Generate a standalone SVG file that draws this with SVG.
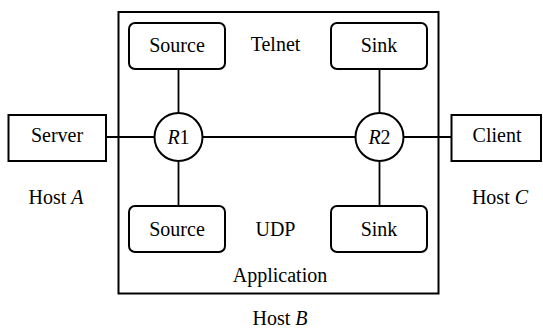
<svg xmlns="http://www.w3.org/2000/svg" width="543" height="328" viewBox="0 0 543 328">
<style>
.box{fill:#fff;stroke:#000;stroke-width:2}
.ln{fill:none;stroke:#000;stroke-width:1.8}
text{font-family:'Liberation Serif',Tinos,'Times New Roman','DejaVu Serif',serif;font-size:20px;fill:#000;text-anchor:middle}
.i{font-style:italic}
</style>
<rect width="543" height="328" fill="#fff"/>
<g id="hostB" font-family="Liberation Serif, serif">
<rect class="box" x="118.5" y="12" width="320" height="281.5"/>
<text x="275.5" y="51">Telnet</text>
<text x="275.5" y="236">UDP</text>
<text x="280" y="282">Application</text>
<text x="280" y="325">Host <tspan class="i">B</tspan></text>
</g>
<g id="connectors">
<line class="ln" x1="106" y1="137" x2="154" y2="137"/>
<line class="ln" x1="202" y1="137" x2="355" y2="137"/>
<line class="ln" x1="403" y1="137" x2="451" y2="137"/>
<line class="ln" x1="178.5" y1="69" x2="178.5" y2="113"/>
<line class="ln" x1="178.5" y1="161" x2="178.5" y2="206"/>
<line class="ln" x1="379.5" y1="69" x2="379.5" y2="113"/>
<line class="ln" x1="379.5" y1="161" x2="379.5" y2="206"/>
</g>
<g id="server">
<rect class="box" x="8.5" y="115" width="97.5" height="46"/>
<text x="57" y="142">Server</text>
<text x="56" y="204">Host <tspan class="i">A</tspan></text>
</g>
<g id="client">
<rect class="box" x="451.5" y="115" width="89.5" height="46"/>
<text x="497" y="142">Client</text>
<text x="500" y="204">Host <tspan class="i">C</tspan></text>
</g>
<g id="source-telnet">
<rect class="box" x="129" y="23" width="96" height="46" rx="6"/>
<text x="177" y="52">Source</text>
</g>
<g id="sink-telnet">
<rect class="box" x="331" y="23" width="96" height="46" rx="6"/>
<text x="379" y="52">Sink</text>
</g>
<g id="source-udp">
<rect class="box" x="129" y="206" width="96" height="46" rx="6"/>
<text x="177" y="236">Source</text>
</g>
<g id="sink-udp">
<rect class="box" x="331" y="206" width="96" height="46" rx="6"/>
<text x="379" y="236">Sink</text>
</g>
<g id="R1">
<circle class="box" cx="178.5" cy="137" r="24"/>
<text x="178.5" y="144"><tspan class="i">R</tspan>1</text>
</g>
<g id="R2">
<circle class="box" cx="379.5" cy="137" r="24"/>
<text x="379.5" y="144"><tspan class="i">R</tspan>2</text>
</g>
</svg>
